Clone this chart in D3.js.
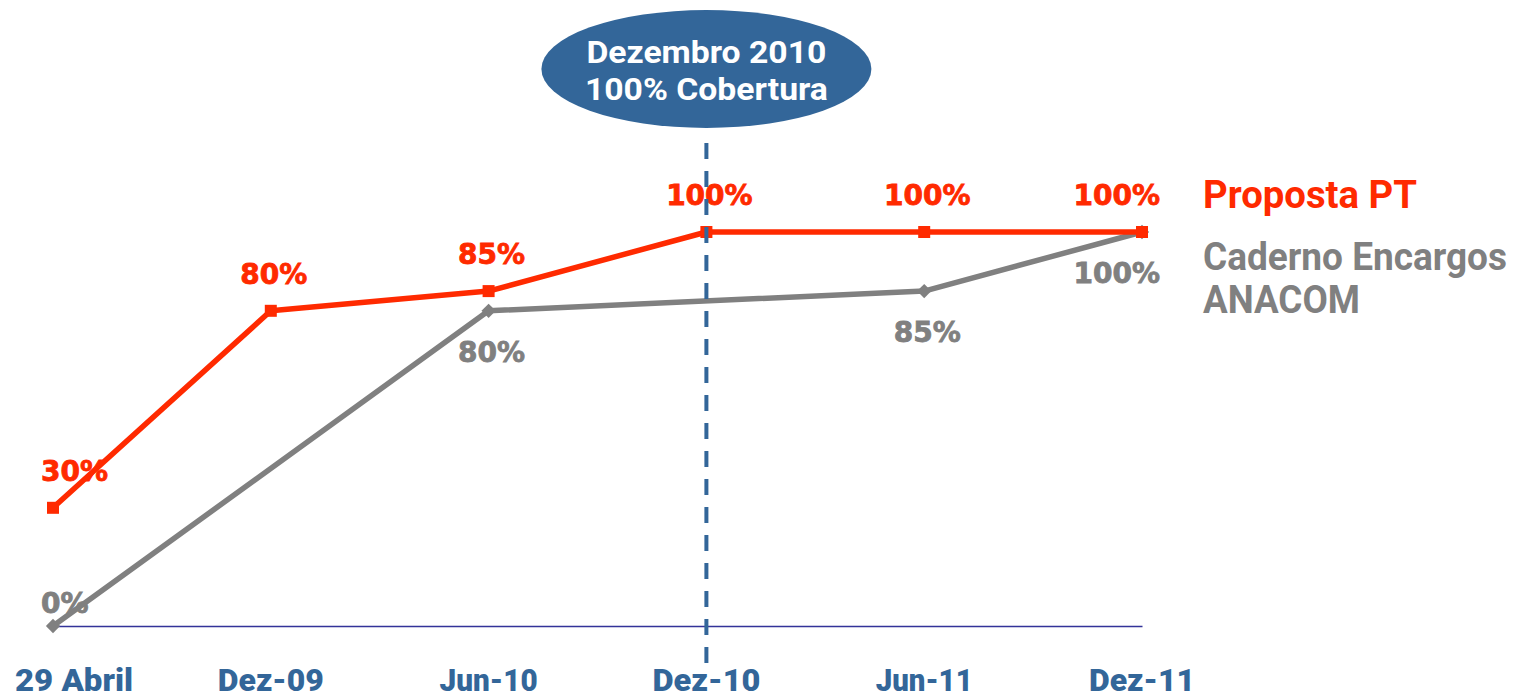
<!DOCTYPE html>
<html>
<head>
<meta charset="utf-8">
<script src="https://cdn.jsdelivr.net/npm/d3@7"></script>
<style>
  html, body { margin: 0; padding: 0; background: #ffffff; }
  svg { display: block; }
</style>
</head>
<body>
<svg id="chart" width="1524" height="699"></svg>
<script>
// ---- data ----
const categories = ["29 Abril", "Dez-09", "Jun-10", "Dez-10", "Jun-11", "Dez-11"];
const propostaPT = [30, 80, 85, 100, 100, 100];
const cadernoEncargos = [0, null, 80, null, 85, 100];
const seriesNames = ["Proposta PT", "Caderno Encargos", "ANACOM"];
const highlightCategory = "Dez-10";
const calloutLines = ["Dezembro 2010", "100% Cobertura"];

// ---- styles ----
const RED = "#ff2a00";
const GREY = "#808080";
const BLUE = "#336699";
const AXIS = "#333399";
const LABEL_FONT = "'DejaVu Sans', Verdana, sans-serif";
const TITLE_FONT = "Roboto, 'Open Sans', sans-serif";

const svg = d3.select("#chart");

const x = d3.scalePoint().domain(categories).range([53, 1142]);
const y = d3.scaleLinear().domain([0, 100]).range([626, 232]);

// baseline axis
const xAxis = d3.axisBottom(x).tickSize(0).tickPadding(0).tickFormat("");
const axisG = svg.append("g").attr("transform", `translate(0,${y(0)})`).call(xAxis);
axisG.select(".domain").attr("stroke", AXIS).attr("stroke-width", 1.6);

// axis category labels
const catWidths = { "29 Abril": 118, "Dez-09": 106, "Jun-10": 98, "Dez-10": 108, "Jun-11": 97, "Dez-11": 106 };
svg.append("g").selectAll("text").data(categories).join("text")
  .attr("x", d => Math.max(x(d), 15 + catWidths[d] / 2))
  .attr("y", 691)
  .attr("text-anchor", "middle")
  .attr("font-family", TITLE_FONT)
  .attr("font-weight", 900)
  .attr("font-size", 31)
  .attr("fill", BLUE)
  .attr("textLength", d => catWidths[d])
  .attr("lengthAdjust", "spacingAndGlyphs")
  .text(d => d);

// series
function pts(vals) {
  return categories.map((c, i) => ({ c, v: vals[i] })).filter(d => d.v != null);
}
const line = d3.line().x(d => x(d.c)).y(d => y(d.v));

const greyPts = pts(cadernoEncargos);
const redPts = pts(propostaPT);

svg.append("path").datum(greyPts).attr("d", line)
  .attr("fill", "none").attr("stroke", GREY).attr("stroke-width", 5.5).attr("stroke-linejoin", "round");
svg.append("g").selectAll("path").data(greyPts).join("path")
  .attr("d", d3.symbol().type(d3.symbolDiamond2).size(130))
  .attr("transform", d => `translate(${x(d.c)},${y(d.v)})`)
  .attr("fill", GREY);

svg.append("path").datum(redPts).attr("d", line)
  .attr("fill", "none").attr("stroke", RED).attr("stroke-width", 5.5).attr("stroke-linejoin", "round");
svg.append("g").selectAll("rect").data(redPts).join("rect")
  .attr("x", d => x(d.c) - 6).attr("y", d => y(d.v) - 6)
  .attr("width", 12).attr("height", 12)
  .attr("fill", RED);

// value labels
function placeLabels(points, color, below) {
  const g = svg.append("g");
  g.selectAll("text").data(points).join("text")
    .attr("font-family", LABEL_FONT)
    .attr("font-weight", 700)
    .attr("font-size", 28)
    .attr("fill", color)
    .attr("stroke", color)
    .attr("stroke-width", 0.8)
    .attr("text-anchor", "start")
    .text(d => d.v + "%")
    .each(function (d) {
      const w = this.getComputedTextLength();
      let cx = x(d.c) + 3;
      let left = cx - w / 2;
      if (left < 41) left = 41;
      if (left + w > 1160) left = 1160 - w;
      let by;
      if (below) {
        by = y(d.v) + 51;
        if (by > y(0) - 5) by = y(d.v) - 13;
      } else {
        by = y(d.v) - 27;
      }
      d3.select(this).attr("x", left).attr("y", by);
    });
}
placeLabels(redPts, RED, false);
placeLabels(greyPts, GREY, true);

// highlight dashed line
svg.append("line")
  .attr("x1", x(highlightCategory)).attr("x2", x(highlightCategory))
  .attr("y1", 143).attr("y2", 667)
  .attr("stroke", BLUE).attr("stroke-width", 4)
  .attr("stroke-dasharray", "16 12");

// callout ellipse
svg.append("ellipse")
  .attr("cx", x(highlightCategory)).attr("cy", 69)
  .attr("rx", 165).attr("ry", 59)
  .attr("fill", BLUE);
const calloutWidths = [240, 243];
svg.append("g").selectAll("text").data(calloutLines).join("text")
  .attr("x", x(highlightCategory))
  .attr("y", (d, i) => 63 + i * 37)
  .attr("text-anchor", "middle")
  .attr("font-family", TITLE_FONT)
  .attr("font-weight", 700)
  .attr("font-size", 32)
  .attr("fill", "#ffffff")
  .attr("textLength", (d, i) => calloutWidths[i])
  .attr("lengthAdjust", "spacingAndGlyphs")
  .text(d => d);

// legend
const legendColors = [RED, GREY, GREY];
const legendY = [208, 270, 313];
const legendW = [214, 304, 157];
svg.append("g").selectAll("text").data(seriesNames).join("text")
  .attr("x", 1203)
  .attr("y", (d, i) => legendY[i])
  .attr("font-family", TITLE_FONT)
  .attr("font-weight", 700)
  .attr("font-size", 38)
  .attr("fill", (d, i) => legendColors[i])
  .attr("textLength", (d, i) => legendW[i])
  .attr("lengthAdjust", "spacingAndGlyphs")
  .text(d => d);
</script>
</body>
</html>
